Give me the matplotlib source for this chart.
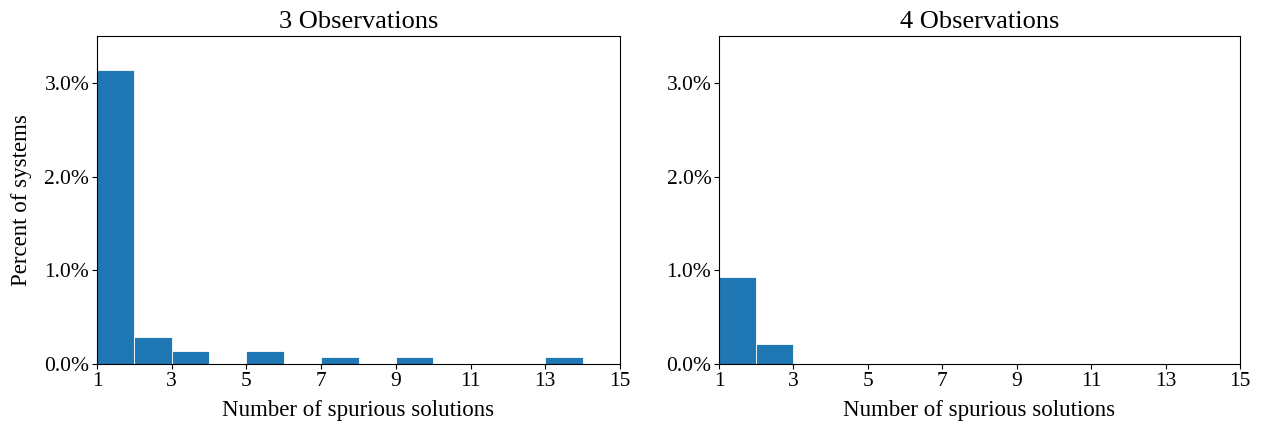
import numpy as np
import matplotlib.pyplot as plt
from matplotlib.ticker import PercentFormatter

plt.rcParams['font.family'] = ['Liberation Serif', 'DejaVu Serif']

# bin edges: number of spurious solutions 1..15
edges = np.arange(1, 16)
# percent of systems per bin
pct_3obs = [3.14, 0.286, 0.143, 0.0, 0.143, 0.0, 0.0714, 0.0, 0.0714, 0.0, 0.0, 0.0, 0.0714, 0.0]
pct_4obs = [0.929, 0.214, 0.0, 0.0, 0.0, 0.0, 0.0, 0.0, 0.0, 0.0, 0.0, 0.0, 0.0, 0.0]
titles = ["3 Observations", "4 Observations"]
xticks = [1, 3, 5, 7, 9, 11, 13, 15]

fig = plt.figure(figsize=(12.63, 4.28), dpi=100)
ax1 = fig.add_axes([0.0768, 0.1495, 0.4141, 0.7664])
ax2 = fig.add_axes([0.5693, 0.1495, 0.4125, 0.7664])

for ax, vals, t in zip([ax1, ax2], [pct_3obs, pct_4obs], titles):
    ax.bar(edges[:-1], vals, width=1, align='edge', color='#1f77b4',
           edgecolor='white', linewidth=0.6)
    ax.set_xlim(1, 15)
    ax.set_ylim(0, 3.5)
    ax.set_xticks(xticks)
    ax.set_yticks([0, 1, 2, 3])
    ax.yaxis.set_major_formatter(PercentFormatter(decimals=1))
    ax.tick_params(labelsize=15.5, pad=2)
    ax.set_title(t, fontsize=19, pad=6)
    ax.set_xlabel("Number of spurious solutions", fontsize=16.5, labelpad=7)

ax1.set_ylabel("Percent of systems", fontsize=16.5, labelpad=9)

fig.savefig("out.png", dpi=100)
